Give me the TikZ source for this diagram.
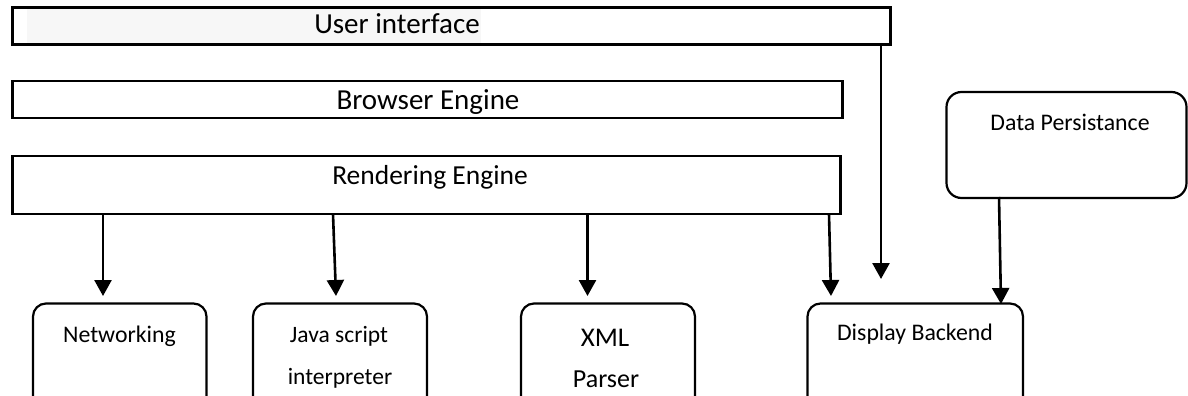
\documentclass[tikz,border=0pt]{standalone}
\usepackage{fontspec}
\setmainfont{Carlito}
\usetikzlibrary{arrows.meta}

\begin{document}
\begin{tikzpicture}[x=1pt, y=-1pt,
  layer/.style={draw=black, line width=2.4pt, rectangle, anchor=north west,
    inner sep=0pt, outer sep=0pt},
  module/.style={layer, line width=2.2pt, rounded corners=13pt},
  store/.style={layer, line width=2.2pt, rounded corners=15pt},
  bigtxt/.style={anchor=base, inner sep=0pt, font=\fontsize{29}{29}\selectfont},
  midtxt/.style={anchor=base, inner sep=0pt, font=\fontsize{27.5}{27.5}\selectfont},
  smalltxt/.style={anchor=base, inner sep=0pt, font=\fontsize{23.8}{23.8}\selectfont},
  flow/.style={draw=black, line width=2.6pt,
    -{Triangle[length=16pt, width=17pt]}}
]
\useasboundingbox (0,0) rectangle (1188,396);
\clip (0,0) rectangle (1188,396);

% stacked layers
\fill[gray!6] (27,9) rectangle (481,43);
\node[layer, minimum width=878pt, minimum height=37pt] (ui) at (12.5,7.5) {};
\node[layer, minimum width=830pt, minimum height=37pt] (be) at (12.5,81) {};
\node[layer, minimum width=828pt, minimum height=58pt] (re) at (12.5,156) {};
\node[store, minimum width=240pt, minimum height=106pt] (dp) at (946.5,92) {};

\node[bigtxt] (uiT) at (397,34) {User interface};
\node[bigtxt] (beT) at (428,109) {Browser Engine};
\node[midtxt] (reT) at (430,184) {Rendering Engine};
\node[smalltxt] (dpT) at (1070,130) {Data Persistance};

% subsystem modules
\node[module, minimum width=173.5pt, minimum height=110pt] (net) at (33,303.5) {};
\node[module, minimum width=174pt, minimum height=110pt] (js) at (253,303.5) {};
\node[module, minimum width=174pt, minimum height=110pt] (xml) at (521,303.5) {};
\node[module, minimum width=215.5pt, minimum height=110pt] (db) at (807.5,303.5) {};

\node[smalltxt] (netT) at (119.5,342) {Networking};
\node[smalltxt, font=\fontsize{23.5}{23.5}\selectfont] (jsT1) at (339,342) {Java script};
\node[smalltxt, font=\fontsize{23.5}{23.5}\selectfont] (jsT2) at (340,384) {interpreter};
\node[midtxt, font=\fontsize{27}{27}\selectfont] (xmlT1) at (605,346) {XML};
\node[midtxt, font=\fontsize{26}{26}\selectfont] (xmlT2) at (606,387) {Parser};
\node[smalltxt] (dbT) at (915,340) {Display Backend};

% arrow end points
\coordinate (netS) at (103,214);   \coordinate (netE) at (103,296);
\coordinate (jsS)  at (333,214);   \coordinate (jsE)  at (336,296);
\coordinate (xmlS) at (587.5,214); \coordinate (xmlE) at (587.5,296);
\coordinate (dbS)  at (829,214);   \coordinate (dbE)  at (831,296);
\coordinate (uiS)  at (881,43);    \coordinate (uiE)  at (881,279);
\coordinate (dpS)  at (999,197);   \coordinate (dpE)  at (1001,304);

\draw[flow] (netS) -- (netE);
\draw[flow] (jsS) -- (jsE);
\draw[flow] (xmlS) -- (xmlE);
\draw[flow] (dbS) -- (dbE);
\draw[flow] (uiS) -- (uiE);
\draw[flow] (dpS) -- (dpE);
\end{tikzpicture}
\end{document}
